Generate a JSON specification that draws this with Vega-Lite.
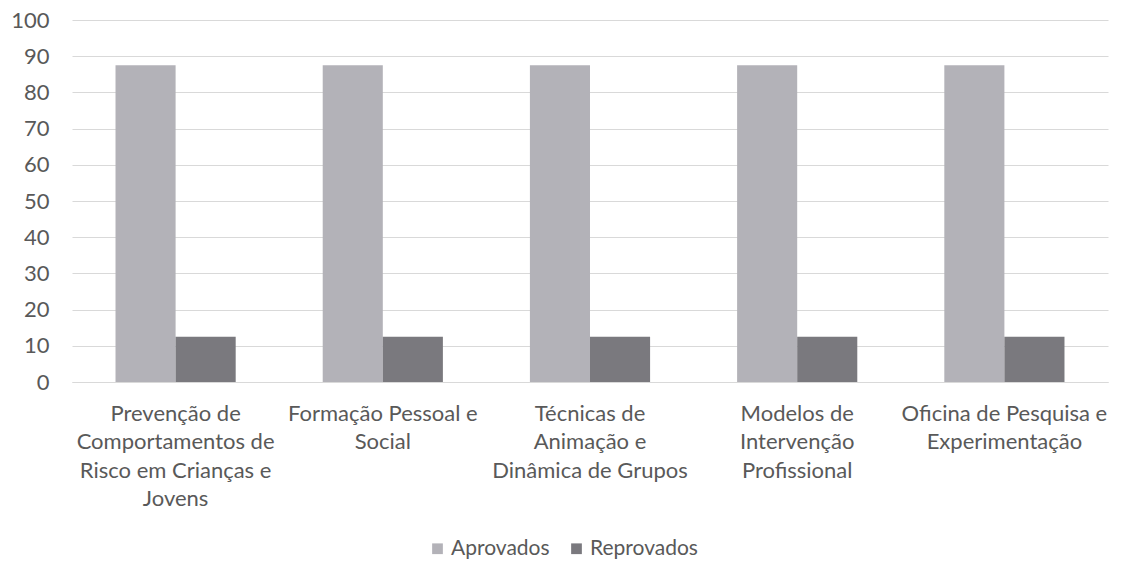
{
  "$schema": "https://vega.github.io/schema/vega-lite/v6.json",
  "width": 1036,
  "height": 362,
  "autosize": {"type": "none"},
  "padding": {"left": 72, "top": 20, "right": 13, "bottom": 184},
  "background": "white",
  "config": {
    "view": {"stroke": null},
    "font": "Lato",
    "axis": {"labelFont": "Lato", "labelColor": "#595959", "labelFontSize": 22, "ticks": false},
    "legend": {"labelFont": "Lato", "labelColor": "#595959", "labelFontSize": 21}
  },
  "data": {
    "values": [
      {"disciplina": "Prevenção de Comportamentos de Risco em Crianças e Jovens", "serie": "Aprovados", "valor": 87.5},
      {"disciplina": "Prevenção de Comportamentos de Risco em Crianças e Jovens", "serie": "Reprovados", "valor": 12.5},
      {"disciplina": "Formação Pessoal e Social", "serie": "Aprovados", "valor": 87.5},
      {"disciplina": "Formação Pessoal e Social", "serie": "Reprovados", "valor": 12.5},
      {"disciplina": "Técnicas de Animação e Dinâmica de Grupos", "serie": "Aprovados", "valor": 87.5},
      {"disciplina": "Técnicas de Animação e Dinâmica de Grupos", "serie": "Reprovados", "valor": 12.5},
      {"disciplina": "Modelos de Intervenção Profissional", "serie": "Aprovados", "valor": 87.5},
      {"disciplina": "Modelos de Intervenção Profissional", "serie": "Reprovados", "valor": 12.5},
      {"disciplina": "Oficina de Pesquisa e Experimentação", "serie": "Aprovados", "valor": 87.5},
      {"disciplina": "Oficina de Pesquisa e Experimentação", "serie": "Reprovados", "valor": 12.5}
    ]
  },
  "mark": {"type": "bar"},
  "encoding": {
    "x": {
      "field": "disciplina",
      "type": "nominal",
      "sort": null,
      "scale": {"paddingInner": 0.42, "paddingOuter": 0.21},
      "axis": {
        "title": null,
        "labelAngle": 0,
        "labelPadding": 21,
        "labelLineHeight": 28.5,
        "labelLimit": 0,
        "domainColor": "#d9d9d9",
        "labelExpr": "datum.value == 'Prevenção de Comportamentos de Risco em Crianças e Jovens' ? ['Prevenção de', 'Comportamentos de', 'Risco em Crianças e', 'Jovens'] : datum.value == 'Formação Pessoal e Social' ? ['Formação Pessoal e', 'Social'] : datum.value == 'Técnicas de Animação e Dinâmica de Grupos' ? ['Técnicas de', 'Animação e', 'Dinâmica de Grupos'] : datum.value == 'Modelos de Intervenção Profissional' ? ['Modelos de', 'Intervenção', 'Profissional'] : ['Oficina de Pesquisa e', 'Experimentação']"
      }
    },
    "xOffset": {"field": "serie", "type": "nominal"},
    "y": {
      "field": "valor",
      "type": "quantitative",
      "scale": {"domain": [0, 100]},
      "axis": {
        "title": null,
        "values": [0, 10, 20, 30, 40, 50, 60, 70, 80, 90, 100],
        "domain": false,
        "gridColor": "#d9d9d9",
        "labelPadding": 23
      }
    },
    "color": {
      "field": "serie",
      "type": "nominal",
      "scale": {"domain": ["Aprovados", "Reprovados"], "range": ["#b3b2b8", "#7a797e"]},
      "legend": {
        "title": null,
        "orient": "none",
        "direction": "horizontal",
        "legendX": 355,
        "legendY": 518,
        "symbolType": "square",
        "symbolSize": 115,
        "symbolStrokeWidth": 0,
        "columnPadding": 16,
        "labelOffset": 3
      }
    }
  }
}
